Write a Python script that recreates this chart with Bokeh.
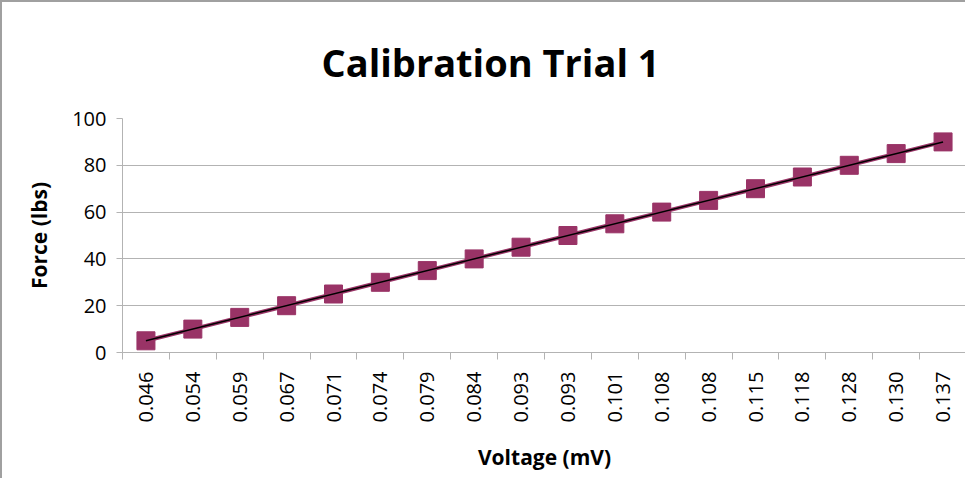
import numpy as np
from bokeh.plotting import figure
from bokeh.models import FixedTicker, Range1d
from bokeh.embed import file_html
from bokeh.resources import INLINE

voltage_labels = ["0.046", "0.054", "0.059", "0.067", "0.071", "0.074", "0.079", "0.084", "0.093",
                  "0.093", "0.101", "0.108", "0.108", "0.115", "0.118", "0.128", "0.130", "0.137"]
force = [5, 10, 15, 20, 25, 30, 35, 40, 45, 50, 55, 60, 65, 70, 75, 80, 85, 90]
y_ticks = [0, 20, 40, 60, 80, 100]
title_text = "Calibration Trial 1"

idx = list(range(1, len(voltage_labels) + 1))
slope, intercept = np.polyfit(idx, force, 1)
trend_x = [idx[0], idx[-1]]
trend_y = [slope * x + intercept for x in trend_x]

FONT = "Open Sans"
MAROON = "#993366"
GRID = "#b3b3b3"

p = figure(width=965, height=478, output_backend="svg", toolbar_location=None,
           x_range=Range1d(0.5, len(idx) + 0.5), y_range=Range1d(0, 100),
           min_border_left=120, min_border_right=1, min_border_top=116, min_border_bottom=128)
p.styles = {"border-top": "2px solid #a0a0a0", "border-left": "2px solid #a0a0a0"}
p.outline_line_color = None

p.title.text = title_text
p.title.text_font = FONT
p.title.text_font_size = "38px"
p.title.text_font_style = "bold"
p.title.align = "left"
p.title.vertical_align = "top"
p.title.text_color = "#000000"
p.title.standoff = 58
p.title.offset = 199

p.line(idx, force, line_color=MAROON, line_width=4)
p.scatter(idx, force, marker="square", size=18, fill_color=MAROON, line_color=MAROON)
p.line(trend_x, trend_y, line_color="#000000", line_width=1.5)

# x axis
xa = p.xaxis[0]
xa.ticker = FixedTicker(ticks=idx, minor_ticks=[i + 0.5 for i in range(0, len(idx) + 1)])
xa.major_label_overrides = {i: lab for i, lab in zip(idx, voltage_labels)}
xa.major_label_orientation = np.pi / 2
xa.major_tick_out = 0
xa.major_tick_in = 0
xa.minor_tick_out = 7
xa.minor_tick_in = 0
xa.minor_tick_line_color = GRID
xa.axis_line_color = GRID
xa.major_label_text_font = FONT
xa.major_label_text_font_size = "20px"
xa.major_label_text_color = "#000000"
xa.major_label_standoff = 12
xa.axis_label = "Voltage (mV)"
xa.axis_label_text_font = FONT
xa.axis_label_text_font_size = "21px"
xa.axis_label_text_font_style = "bold"
xa.axis_label_text_color = "#000000"
xa.axis_label_standoff = 18

# y axis
ya = p.yaxis[0]
ya.ticker = FixedTicker(ticks=y_ticks, minor_ticks=[])
ya.major_tick_out = 6
ya.major_tick_in = 0
ya.major_tick_line_color = GRID
ya.axis_line_color = GRID
ya.major_label_text_font = FONT
ya.major_label_text_font_size = "20px"
ya.major_label_text_color = "#000000"
ya.major_label_standoff = 10
ya.axis_label = "Force (lbs)"
ya.axis_label_text_font = FONT
ya.axis_label_text_font_size = "21px"
ya.axis_label_text_font_style = "bold"
ya.axis_label_text_color = "#000000"
ya.axis_label_standoff = 16

p.xgrid.grid_line_color = None
p.ygrid.ticker = FixedTicker(ticks=y_ticks)
p.ygrid.grid_line_color = GRID
p.ygrid.grid_line_width = 1

open("out.html", "w").write(file_html(p, INLINE))
